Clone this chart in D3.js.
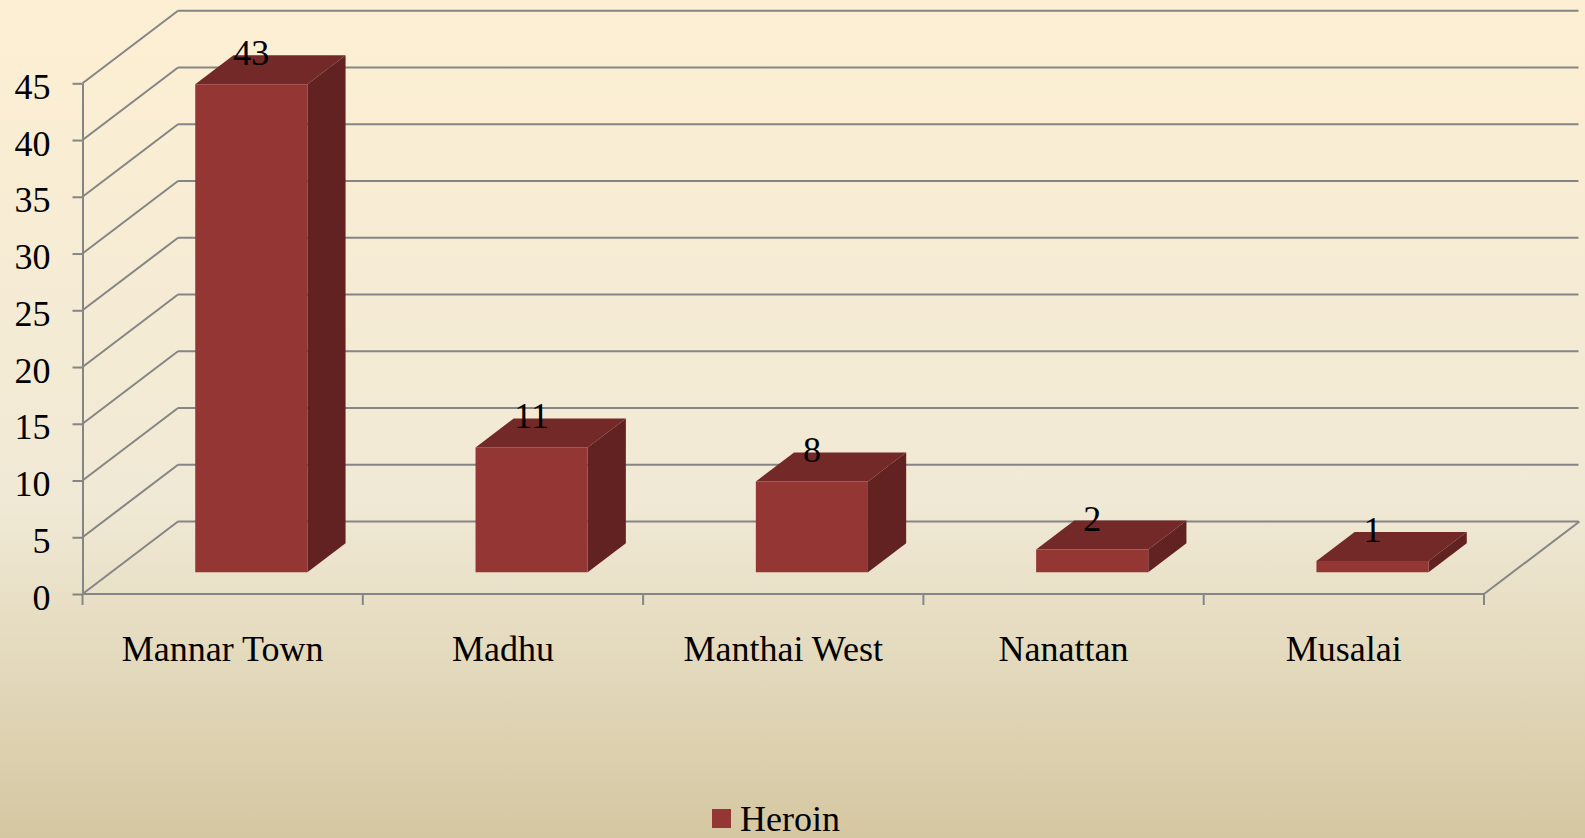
<!DOCTYPE html>
<html>
<head>
<meta charset="utf-8">
<script src="https://cdn.jsdelivr.net/npm/d3@7"></script>
<style>
  html, body { margin: 0; padding: 0; overflow: hidden; }
  svg { display: block; }
  text { font-family: "Liberation Serif", "Times New Roman", serif; fill: #000; }
</style>
</head>
<body>
<svg id="chart" width="1585" height="838"></svg>
<script>
(function(){
    var categories = ['Mannar Town', 'Madhu', 'Manthai West', 'Nanattan', 'Musalai'];
    var heroin = [43, 11, 8, 2, 1];
    var yTicks = [0, 5, 10, 15, 20, 25, 30, 35, 40, 45];
    var seriesName = 'Heroin';

    var W = 1585, H = 838;
    var dep = [95.5, -72.5];      // depth vector of the 3d box
    var barZ = [0.3, 0.7];        // bar depth, as a fraction of the box depth
    var grid = '#858585';
    var cFront = '#943634', cTop = '#722928', cSide = '#622222';

    var svg = d3.select('#chart');

    // background gradient
    var grad = svg.append('defs').append('linearGradient')
        .attr('id', 'bg').attr('x1', 0).attr('y1', 0).attr('x2', 0).attr('y2', 1);
    grad.append('stop').attr('offset', '0%').attr('stop-color', '#fdefd3');
    grad.append('stop').attr('offset', '60%').attr('stop-color', '#f0e9d5');
    grad.append('stop').attr('offset', '100%').attr('stop-color', '#d5c7a1');
    svg.append('rect').attr('width', W).attr('height', H).attr('fill', 'url(#bg)');

    var x = d3.scaleBand().domain(categories).range([82.5, 1484]).padding(0);
    var y = d3.scaleLinear().domain([0, 45]).range([594, 83.3]);

    // walls: left wall diagonals + back wall gridlines
    var g = svg.append('g').attr('stroke', grid).attr('stroke-width', 2).attr('fill', 'none');
    var x0 = x.range()[0], x1 = x.range()[1];
    yTicks.forEach(function(v){
        var yy = y(v);
        g.append('line')
            .attr('x1', x0).attr('y1', yy)
            .attr('x2', x0 + dep[0]).attr('y2', yy + dep[1]);
        g.append('line')
            .attr('x1', x0 + dep[0]).attr('y1', yy + dep[1])
            .attr('x2', x1 + dep[0] - 1).attr('y2', yy + dep[1]);
    });
    // floor
    g.append('line').attr('x1', x0).attr('y1', y(0)).attr('x2', x1).attr('y2', y(0));
    g.append('line').attr('x1', x1).attr('y1', y(0))
        .attr('x2', x1 + dep[0]).attr('y2', y(0) + dep[1]);

    // bars
    var bw = x.bandwidth() * 0.4;
    var fx = dep[0] * barZ[0], fy = dep[1] * barZ[0];
    var ddx = dep[0] * (barZ[1] - barZ[0]), ddy = dep[1] * (barZ[1] - barZ[0]);

    var bars = svg.append('g').selectAll('g.bar')
        .data(heroin.map(function(v, i){ return {cat: categories[i], v: v}; }))
        .join('g').attr('class', 'bar');

    function geo(d){
        var cx = x(d.cat) + x.bandwidth() / 2 + fx;
        return {l: cx - bw / 2, r: cx + bw / 2, b: y(0) + fy, t: y(d.v) + fy, cx: cx};
    }

    bars.append('path')
        .attr('fill', cSide)
        .attr('d', function(d){
            var q = geo(d);
            return 'M' + q.r + ',' + q.b + 'L' + (q.r + ddx) + ',' + (q.b + ddy) +
                'L' + (q.r + ddx) + ',' + (q.t + ddy) + 'L' + q.r + ',' + q.t + 'Z';
        });
    bars.append('path')
        .attr('fill', cTop)
        .attr('d', function(d){
            var q = geo(d);
            return 'M' + q.l + ',' + q.t + 'L' + (q.l + ddx) + ',' + (q.t + ddy) +
                'L' + (q.r + ddx) + ',' + (q.t + ddy) + 'L' + q.r + ',' + q.t + 'Z';
        });
    bars.append('rect')
        .attr('fill', cFront)
        .attr('x', function(d){ return geo(d).l; })
        .attr('y', function(d){ return geo(d).t; })
        .attr('width', bw)
        .attr('height', function(d){ var q = geo(d); return q.b - q.t; });

    bars.append('text')
        .attr('x', function(d){ return geo(d).cx; })
        .attr('y', function(d){ return geo(d).t - 19; })
        .attr('text-anchor', 'middle')
        .style('font-size', '36px')
        .text(function(d){ return d.v; });

    // value axis
    var yAxis = d3.axisLeft(y).tickValues(yTicks).tickSizeInner(10).tickSizeOuter(0).tickPadding(22);
    var ya = svg.append('g').attr('transform', 'translate(' + x0 + ',0)').call(yAxis);
    ya.select('.domain').attr('stroke', grid).attr('stroke-width', 2);
    ya.selectAll('.tick line').attr('stroke', grid).attr('stroke-width', 2);
    ya.selectAll('.tick text')
        .attr('dy', '0.42em')
        .style('font-size', '36px')
        .style('font-family', '"Liberation Serif", "Times New Roman", serif')
        .attr('fill', '#000');

    // category axis: ticks on band edges, labels at band centres
    var edges = categories.map(function(c){ return x(c); }).concat([x1]);
    svg.append('g').selectAll('line').data(edges).join('line')
        .attr('x1', function(d){ return d; }).attr('x2', function(d){ return d; })
        .attr('y1', y(0)).attr('y2', y(0) + 11)
        .attr('stroke', grid).attr('stroke-width', 2);
    svg.append('g').selectAll('text').data(categories).join('text')
        .attr('x', function(d){ return x(d) + x.bandwidth() / 2; })
        .attr('y', 661)
        .attr('text-anchor', 'middle')
        .style('font-size', '36px')
        .text(function(d){ return d; });

    // legend
    var lg = svg.append('g').attr('transform', 'translate(712,809)');
    lg.append('rect').attr('width', 19).attr('height', 19).attr('fill', cFront);
    lg.append('text').attr('x', 28).attr('y', 22).style('font-size', '36px').text(seriesName);
})();
</script>
</body>
</html>
